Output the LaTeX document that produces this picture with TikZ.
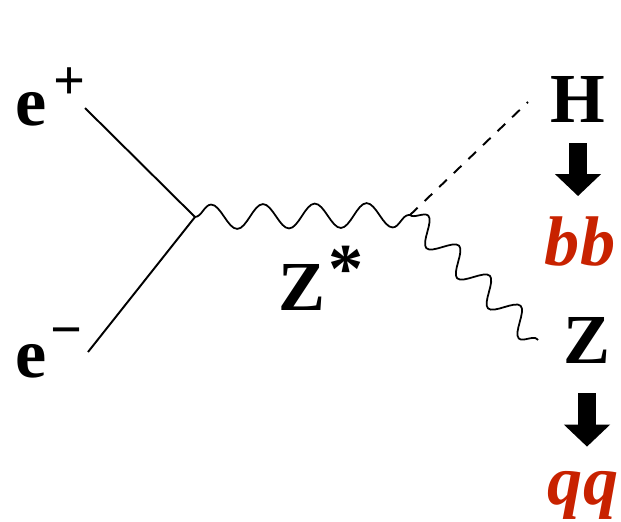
\documentclass[tikz,border=0pt]{standalone}
\usepackage{fontspec}
\setmainfont{Liberation Serif}
\usepackage{xcolor}
\usepackage{tikz}
\usetikzlibrary{arrows.meta,decorations.pathmorphing}
\definecolor{quarkred}{RGB}{200,34,0}

\begin{document}
\begin{tikzpicture}[x=0.02cm,y=-0.02cm,
  font=\fontsize{40}{44}\selectfont\bfseries,
  lbl/.style={inner sep=0pt},
  quark/.style={inner sep=0pt,text=quarkred,font=\fontsize{40}{44}\selectfont\bfseries\itshape},
  fermion/.style={line width=1.1pt},
  boson/.style={line width=1pt,decorate,decoration={snake,amplitude=7pt,segment length=#1}},
  higgs/.style={line width=1.1pt,dash pattern=on 6pt off 5.5pt},
  decay/.style={line width=10pt,-{Triangle[width=25.5pt,length=12.5pt]}}]
  \useasboundingbox (0,0) rectangle (621,521);
  % vertices and free ends of the legs
  \coordinate (v1) at (195,217);
  \coordinate (v2) at (410,215);
  \coordinate (a) at (85,108);
  \coordinate (b) at (88,352);
  \coordinate (h) at (528,102);
  \coordinate (z) at (538,340);
  % labels
  \node[lbl,anchor=base west] (ep) at (15,125)
    {e\hspace{4pt}\raisebox{0.36em}{\fontsize{32}{32}\selectfont +}};
  \node[lbl,anchor=base west] (em) at (15,377)
    {e\hspace{2pt}\raisebox{0.41em}{\fontsize{32}{32}\selectfont −}};
  \node[lbl,anchor=base west] (zs) at (278,310) {Z\hspace{2pt}\raisebox{0.25em}{*}};
  \node[lbl,anchor=base] (H) at (578,122) {H};
  \node[quark,anchor=base] (bb) at (580,265) {bb};
  \node[lbl,anchor=base] (Z) at (587,363) {Z};
  \node[quark,anchor=base] (qq) at (583,504) {qq};
  % lines
  \draw[fermion] (a) -- (v1);
  \draw[fermion] (b) -- (v1);
  \draw[boson=29.5pt] (v1) -- (v2);
  \draw[higgs] (v2) -- (h);
  \draw[boson=24.5pt] (v2) -- (z);
  % decays
  \draw[decay,shorten <=11.9pt,shorten >=11.3pt] (H.south) -- (H.south |- bb.north);
  \draw[decay,shorten <=17pt,shorten >=13.6pt] (Z.south) -- (Z.south |- qq.north);
\end{tikzpicture}
\end{document}
